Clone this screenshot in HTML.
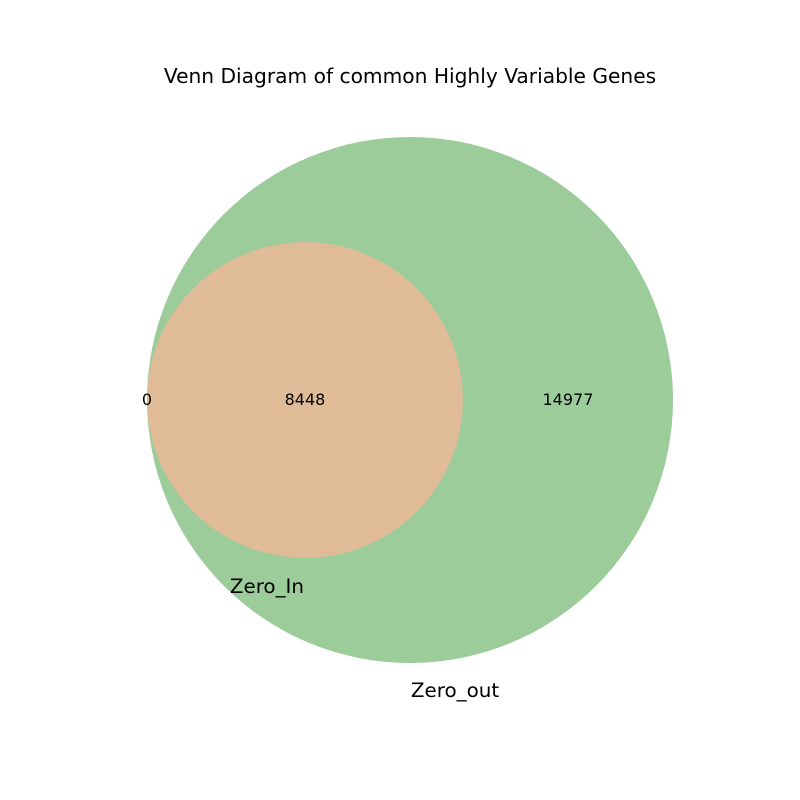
<!DOCTYPE html>
<html><head><meta charset="utf-8"><style>
body{margin:0;background:#fff}
svg{display:block;font-family:"DejaVu Sans","Liberation Sans",sans-serif}
</style></head><body>
<svg width="800" height="800">
<text x="410" y="83" text-anchor="middle" font-size="20.2" fill="#000">Venn Diagram of common Highly Variable Genes</text>
<g id="venn"></g>
</svg>
<script>
const setNames = ["Zero_In", "Zero_out"];
const regionCounts = [0, 14977, 8448]; // only In, only out, both
const ns = "http://www.w3.org/2000/svg";
const g = document.getElementById("venn");
const totalOut = regionCounts[1] + regionCounts[2];
const totalIn = regionCounts[0] + regionCounts[2];
const Rbig = 263, cx = 410, cy = 400;
const rSmall = Rbig * Math.sqrt(totalIn / totalOut);
const leftEdge = cx - Rbig;
const sx = leftEdge + rSmall;
function mk(tag, attrs){const e=document.createElementNS(ns,tag);for(const k in attrs)e.setAttribute(k,attrs[k]);g.appendChild(e);return e;}
const c1 = mk("circle",{cx:cx,cy:cy,r:Rbig,fill:"#9bcc99"});


const c2 = mk("circle",{cx:sx,cy:cy,r:rSmall,fill:"#e0bb98"});


function txt(x,y,s,size,anchor){const t=mk("text",{x:x,y:y,"font-size":size,"text-anchor":anchor||"middle",fill:"#000"});t.textContent=s;return t;}
const t0 = txt(leftEdge, 405, String(regionCounts[0]), 16);


const t1 = txt(sx, 405, String(regionCounts[2]), 16);


const t2 = txt((sx + rSmall + cx + Rbig) / 2, 405, String(regionCounts[1]), 16);


const l1 = txt(sx - 38, 593, setNames[0], 19.9);


const l2 = txt(cx + 45, 697, setNames[1], 19.9);


</script>
</body></html>
